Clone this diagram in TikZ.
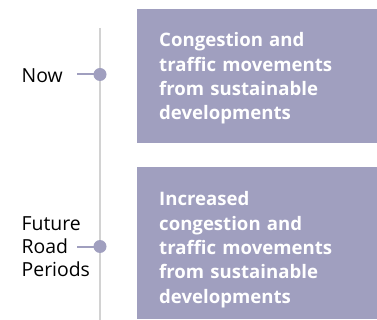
\documentclass[tikz,border=0pt]{standalone}
\usepackage{fontspec}
\setmainfont{Open Sans}[Ligatures=CommonOff]
\definecolor{boxfill}{HTML}{A09FBF}
\definecolor{linegray}{HTML}{D2D2D2}
\begin{document}
\begin{tikzpicture}[x=1pt,y=-1pt,
  panel/.style={fill=boxfill,draw=none},
  paneltext/.style={anchor=base west,inner sep=0pt,text=white,text width=215pt,align=left,
    font=\fontsize{18.6}{24.4}\selectfont\bfseries},
  label/.style={anchor=base west,inner sep=0pt,text=black,text width=75pt,align=left,
    font=\fontsize{19.4}{23.5}\selectfont},
  dot/.style={circle,fill=boxfill,inner sep=0pt,minimum size=13pt},
  tick/.style={draw=boxfill,line width=2pt},
  timeline/.style={draw=linegray,line width=2.5pt}]
\useasboundingbox (0,0) rectangle (377,320);
\coordinate (ltop) at (100,28);
\coordinate (lbot) at (100,320);
\draw[timeline] (ltop) -- (lbot);
\fill[panel] (137,9) rectangle (377,143);
\fill[panel] (137,167) rectangle (377,319);
\node[paneltext] (t1) at (159,46.7) {Congestion and\\traffic movements\\from sustainable\\developments};
\node[paneltext] (t2) at (159,205.7) {Increased\\congestion and\\traffic movements\\from sustainable\\developments};
\node[label] (now) at (21.5,82.3) {Now};
\node[label] (future) at (21.5,230) {Future\\Road\\Periods};
\node[dot] (d1) at (100,74.5) {};
\node[dot] (d2) at (100,246.5) {};
\coordinate (k1) at (77,74.5);
\coordinate (k2) at (77,246.5);
\draw[tick] (k1) -- (d1.center);
\draw[tick] (k2) -- (d2.center);
\end{tikzpicture}
\end{document}
